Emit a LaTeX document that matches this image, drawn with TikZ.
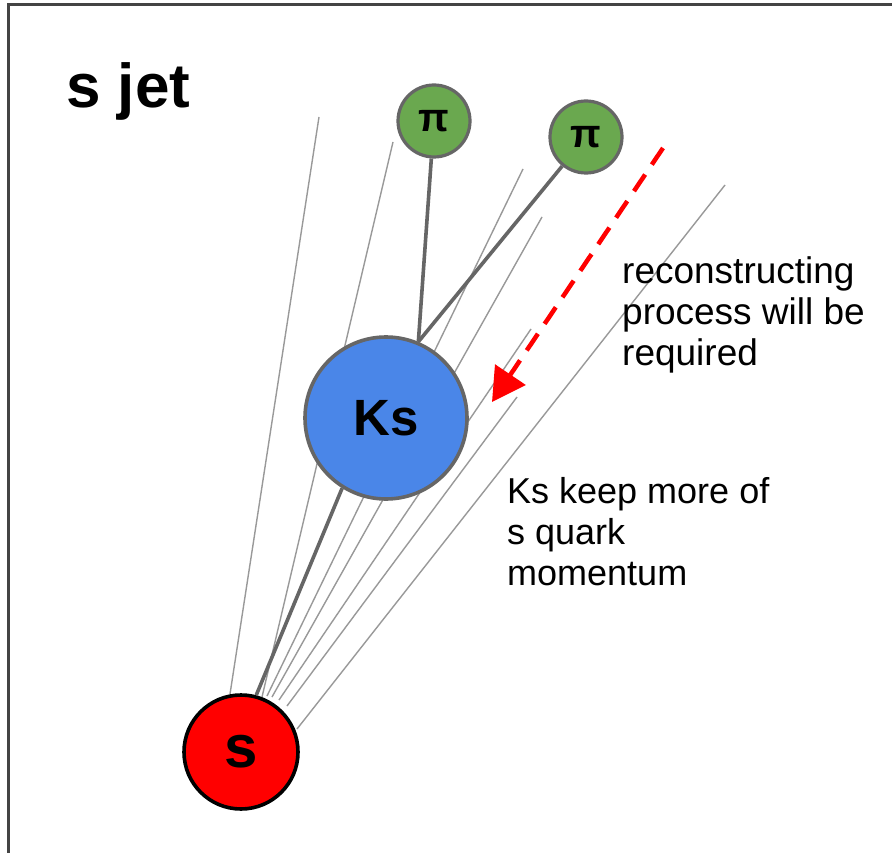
\documentclass[tikz,border=0pt]{standalone}
\usepackage{fontspec}
\setmainfont{Liberation Sans}
\usetikzlibrary{arrows.meta}
\definecolor{ksblue}{HTML}{4A86E8}
\definecolor{pigreen}{HTML}{6AA84F}
\definecolor{edgegray}{HTML}{666666}
\definecolor{thingray}{HTML}{999999}
\definecolor{framegray}{HTML}{444444}
\tikzset{
  particle/.style={circle, inner sep=0pt, font=\bfseries},
  thinline/.style={draw=thingray, line width=1.4pt},
  thickline/.style={draw=edgegray, line width=3.6pt},
  note/.style={anchor=north west, inner sep=0pt, align=left},
}
\begin{document}
\begin{tikzpicture}[x=1pt, y=-1pt]
\useasboundingbox (0,0) rectangle (892,853);
\fill[white] (0,0) rectangle (892,853);
\draw[framegray, line width=2.2pt] (8.5,860) -- (8.5,4.5) -- (900,4.5);

% free ends of the thin jet lines
\coordinate (a1) at (319,117);  \coordinate (a0) at (230,694);
\coordinate (b1) at (393,142);  \coordinate (b0) at (262,697);
\coordinate (c1) at (523,169);  \coordinate (c0) at (267,696);
\coordinate (d1) at (542,217);  \coordinate (d0) at (272,697);
\coordinate (e1) at (531,329);  \coordinate (e0) at (279,700);
\coordinate (f1) at (517,397);  \coordinate (f0) at (287,706);
\coordinate (g1) at (725,185);  \coordinate (g0) at (297,729);

\foreach \p in {a,b,c,d,e,f,g} {\draw[thinline] (\p0) -- (\p1);}

\node[particle, minimum size=162pt, fill=ksblue, draw=edgegray, line width=3.6pt,
      font=\bfseries\fontsize{51}{51}\selectfont] (Ks) at (386,418) {Ks};
\node[particle, minimum size=114pt, fill=red, draw=black, line width=3.6pt,
      font=\bfseries\fontsize{60}{60}\selectfont] (s) at (241,752) {s};
\node[particle, minimum size=72pt, fill=pigreen, draw=edgegray, line width=3.2pt,
      font=\bfseries\fontsize{40}{40}\selectfont] (p1) at (434,121) {π};
\node[particle, minimum size=72pt, fill=pigreen, draw=edgegray, line width=3.2pt,
      font=\bfseries\fontsize{40}{40}\selectfont] (p2) at (586,137) {π};

\draw[thickline] (s.75) -- (Ks.-122);
\draw[thickline] (Ks.67) -- (p1);
\draw[thickline] (Ks.67) -- (p2);

\coordinate (arrS) at (663,148);
\coordinate (arrE) at (492,402);
\draw[red, line width=4.5pt, dash pattern=on 20pt off 12pt,
      -{Triangle[length=33pt, width=36pt]}] (arrS) -- (arrE);

\node[anchor=base west, inner sep=0pt, font=\bfseries\fontsize{62}{62}\selectfont] (title) at (66,108) {s jet};

\node[note, font=\fontsize{37}{41}\selectfont] (n1) at (622,256) {reconstructing\\process will be\\required};
\node[note, font=\fontsize{36}{41}\selectfont] (n2) at (507,477) {Ks keep more of\\s quark\\momentum};
\end{tikzpicture}
\end{document}
